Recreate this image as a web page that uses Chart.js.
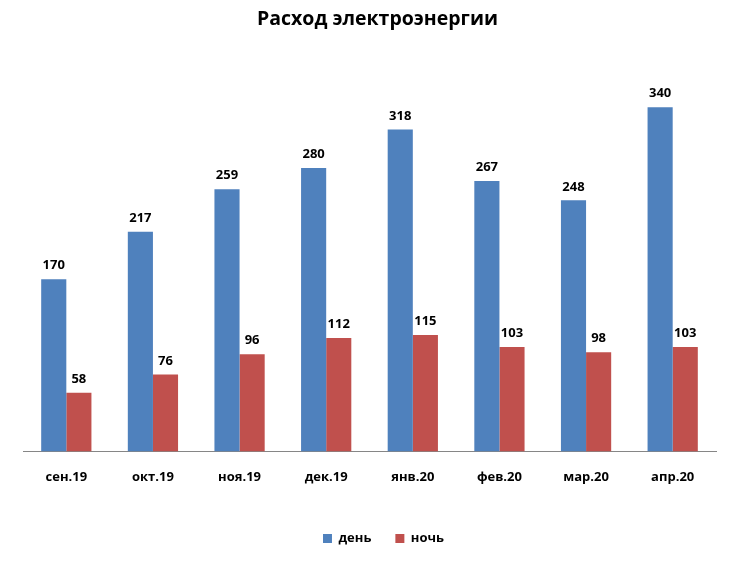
<!DOCTYPE html>
<html>
<head>
<meta charset="utf-8">
<script src="https://cdn.jsdelivr.net/npm/chart.js@4"></script>
<style>
html, body { margin: 0; padding: 0; background: #fff; }
#wrap { width: 746px; height: 573px; }
</style>
</head>
<body>
<div id="wrap"><canvas id="c" width="746" height="573"></canvas></div>
<script>
// data
const months = ["сен.19", "окт.19", "ноя.19", "дек.19", "янв.20", "фев.20", "мар.20", "апр.20"];
const day = [170, 217, 259, 280, 318, 267, 248, 340];
const night = [58, 76, 96, 112, 115, 103, 98, 103];

const font = "'Open Sans', 'DejaVu Sans', sans-serif";

// values above the bars
const barLabels = {
  id: "barLabels",
  afterDatasetsDraw(chart) {
    const ctx = chart.ctx;
    ctx.save();
    ctx.font = "bold 13px " + font;
    ctx.fillStyle = "#000";
    ctx.textAlign = "center";
    ctx.textBaseline = "bottom";
    chart.data.datasets.forEach((ds, i) => {
      chart.getDatasetMeta(i).data.forEach((bar, j) => {
        ctx.fillText(ds.data[j], bar.x, bar.y - 7);
      });
    });
    ctx.restore();
  }
};

// title and legend sit a bit right of centre in the original
const nudge = {
  id: "nudge",
  afterLayout(chart) {
    chart.titleBlock.left += 8;
    chart.titleBlock.right += 8;
    chart.legend.left += 14;
    chart.legend.right += 14;
  }
};

new Chart(document.getElementById("c"), {
  type: "bar",
  data: {
    labels: months,
    datasets: [
      { label: "день", data: day, backgroundColor: "#4F81BD" },
      { label: "ночь", data: night, backgroundColor: "#C0504D" }
    ]
  },
  options: {
    responsive: false,
    animation: false,
    layout: { padding: { left: 23, right: 30, top: 0, bottom: 18 } },
    datasets: { bar: { categoryPercentage: 0.58, barPercentage: 1 } },
    scales: {
      y: { display: false, min: 0, max: 400 },
      x: {
        grid: { display: false },
        border: { display: true, color: "#868686", width: 1 },
        ticks: { color: "#000", padding: 10, font: { family: font, size: 13, weight: "bold" } },
        afterFit(scale) { scale.height += 13; }
      }
    },
    plugins: {
      title: {
        display: true,
        text: "Расход электроэнергии",
        color: "#000",
        font: { family: font, size: 19.5, weight: "bold" },
        padding: { top: 8, bottom: 15 }
      },
      legend: {
        position: "bottom",
        labels: {
          color: "#000",
          boxWidth: 9,
          boxHeight: 9,
          padding: 24,
          font: { family: font, size: 13, weight: "bold" }
        }
      },
      tooltip: { enabled: false }
    }
  },
  plugins: [barLabels, nudge]
});
</script>
</body>
</html>
